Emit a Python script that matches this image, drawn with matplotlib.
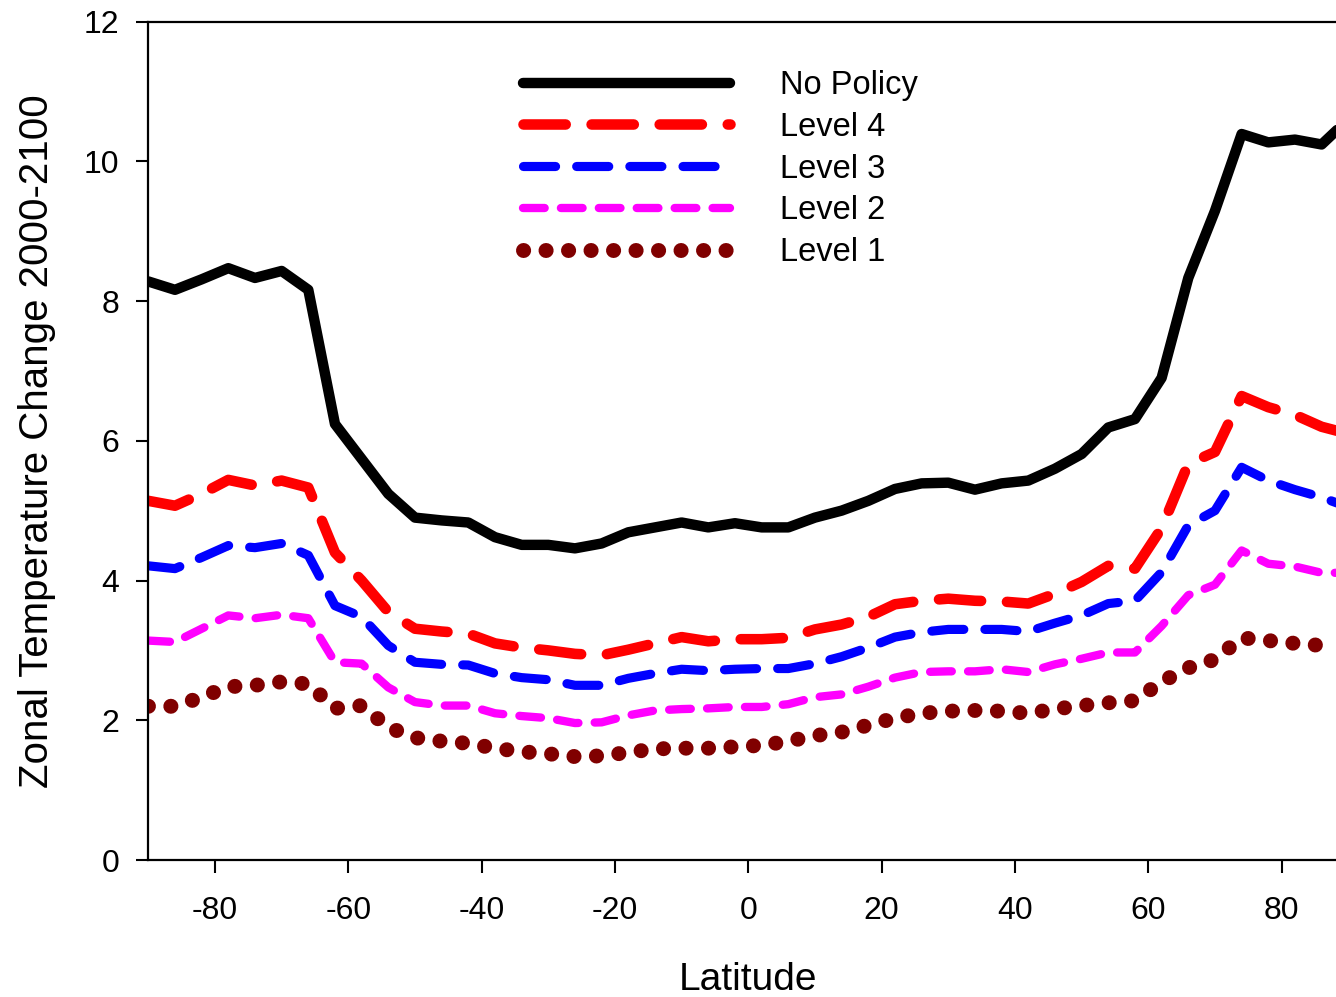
import numpy as np
import matplotlib
matplotlib.use("Agg")
import matplotlib.pyplot as plt

plt.rcParams["font.family"] = ["Liberation Sans", "DejaVu Sans"]
plt.rcParams["axes.unicode_minus"] = False

# Zonal-mean warming 2000-2100 on 4-degree latitude bands
latitude = [-90, -86, -82, -78, -74, -70, -66, -62, -58, -54, -50, -46, -42, -38,
            -34, -30, -26, -22, -18, -14, -10, -6, -2, 2, 6, 10, 14, 18,
            22, 26, 30, 34, 38, 42, 46, 50, 54, 58, 62, 66, 70, 74, 78, 82, 86, 90]

no_policy = [8.28, 8.16, 8.31, 8.47, 8.33, 8.43, 8.16, 6.24, 5.74, 5.24, 4.90, 4.86, 4.83, 4.62,
             4.51, 4.51, 4.46, 4.53, 4.69, 4.76, 4.83, 4.76, 4.82, 4.76, 4.76, 4.90, 5.00, 5.14,
             5.31, 5.39, 5.40, 5.30, 5.39, 5.43, 5.60, 5.81, 6.19, 6.31, 6.90, 8.33, 9.29, 10.39,
             10.27, 10.31, 10.24, 10.60]

level_4 = [5.14, 5.07, 5.24, 5.44, 5.36, 5.43, 5.33, 4.40, 4.00, 3.55, 3.31, 3.27, 3.24, 3.10,
           3.04, 3.00, 2.95, 2.93, 3.01, 3.10, 3.19, 3.13, 3.16, 3.16, 3.18, 3.30, 3.37, 3.48,
           3.66, 3.71, 3.74, 3.71, 3.70, 3.67, 3.81, 3.98, 4.21, 4.17, 4.75, 5.67, 5.84, 6.64,
           6.48, 6.37, 6.20, 6.10]

level_3 = [4.21, 4.17, 4.33, 4.50, 4.47, 4.53, 4.36, 3.64, 3.48, 3.07, 2.83, 2.80, 2.79, 2.67,
           2.61, 2.58, 2.50, 2.50, 2.60, 2.67, 2.73, 2.71, 2.73, 2.74, 2.74, 2.81, 2.91, 3.04,
           3.19, 3.26, 3.30, 3.30, 3.30, 3.27, 3.39, 3.50, 3.67, 3.71, 4.12, 4.79, 5.00, 5.62,
           5.43, 5.30, 5.19, 5.05]

level_2 = [3.14, 3.12, 3.31, 3.50, 3.46, 3.51, 3.46, 2.83, 2.81, 2.47, 2.26, 2.21, 2.21, 2.10,
           2.06, 2.03, 1.96, 1.97, 2.07, 2.14, 2.16, 2.17, 2.19, 2.19, 2.23, 2.33, 2.37, 2.48,
           2.61, 2.69, 2.70, 2.70, 2.73, 2.69, 2.80, 2.88, 2.97, 2.97, 3.35, 3.79, 3.94, 4.43,
           4.24, 4.20, 4.11, 4.11]

level_1 = [2.20, 2.20, 2.33, 2.48, 2.50, 2.55, 2.52, 2.17, 2.21, 1.90, 1.75, 1.70, 1.67, 1.60,
           1.55, 1.52, 1.48, 1.49, 1.54, 1.59, 1.60, 1.60, 1.62, 1.64, 1.70, 1.78, 1.83, 1.93,
           2.03, 2.10, 2.13, 2.14, 2.13, 2.10, 2.16, 2.21, 2.25, 2.28, 2.55, 2.75, 2.87, 3.18,
           3.14, 3.10, 3.07, 3.05]

series_labels = ["No Policy", "Level 4", "Level 3", "Level 2", "Level 1"]
x_ticks = [-80, -60, -40, -20, 0, 20, 40, 60, 80]
y_ticks = [0, 2, 4, 6, 8, 10, 12]

W, H = 1336, 997
fig = plt.figure(figsize=(W / 100, H / 100), dpi=100)
ax = fig.add_axes([148.3 / W, 137 / H, 1200 / W, 838.5 / H])

styles = [
    dict(color="black", lw=7.5, ls="-"),
    dict(color="#FF0000", lw=7.6, ls=(0, (4.0, 2.45))),
    dict(color="#0000FF", lw=6.6, ls=(0, (3.5, 2.3))),
    dict(color="#FF00FF", lw=6.0, ls=(0, (2.6, 1.95))),
    dict(color="#800000", lw=10.8, ls=(0, (0.01, 1.49))),
]
data = [no_policy, level_4, level_3, level_2, level_1]

for vals, lab, st in zip(data, series_labels, styles):
    ax.plot(latitude, vals, label=lab, color=st["color"], lw=st["lw"], linestyle=st["ls"],
            solid_capstyle="round", dash_capstyle="round",
            solid_joinstyle="round", dash_joinstyle="round")

ax.set_xlim(-90, 90)
ax.set_ylim(0, 12)
ax.set_xticks(x_ticks)
ax.set_yticks(y_ticks)
ax.tick_params(axis="both", direction="out", length=9, width=1.5, labelsize=23, colors="black")
ax.tick_params(axis="x", pad=17)
ax.tick_params(axis="y", pad=12)
for side in ["left", "bottom", "top", "right"]:
    ax.spines[side].set_linewidth(1.6)

ax.set_xlabel("Latitude", fontsize=28, labelpad=26)
ax.set_ylabel("Zonal Temperature Change 2000-2100", fontsize=29, labelpad=20)

fs = 23.5
fs_px = fs * 100 / 72
leg = ax.legend(loc="upper left", bbox_to_anchor=(523 / W, 1 - 70 / H),
                bbox_transform=fig.transFigure, frameon=False, fontsize=fs,
                borderpad=0, borderaxespad=0, handlelength=207 / fs_px,
                handletextpad=50 / fs_px, labelspacing=0.33)

fig.savefig("out.png", dpi=100)
